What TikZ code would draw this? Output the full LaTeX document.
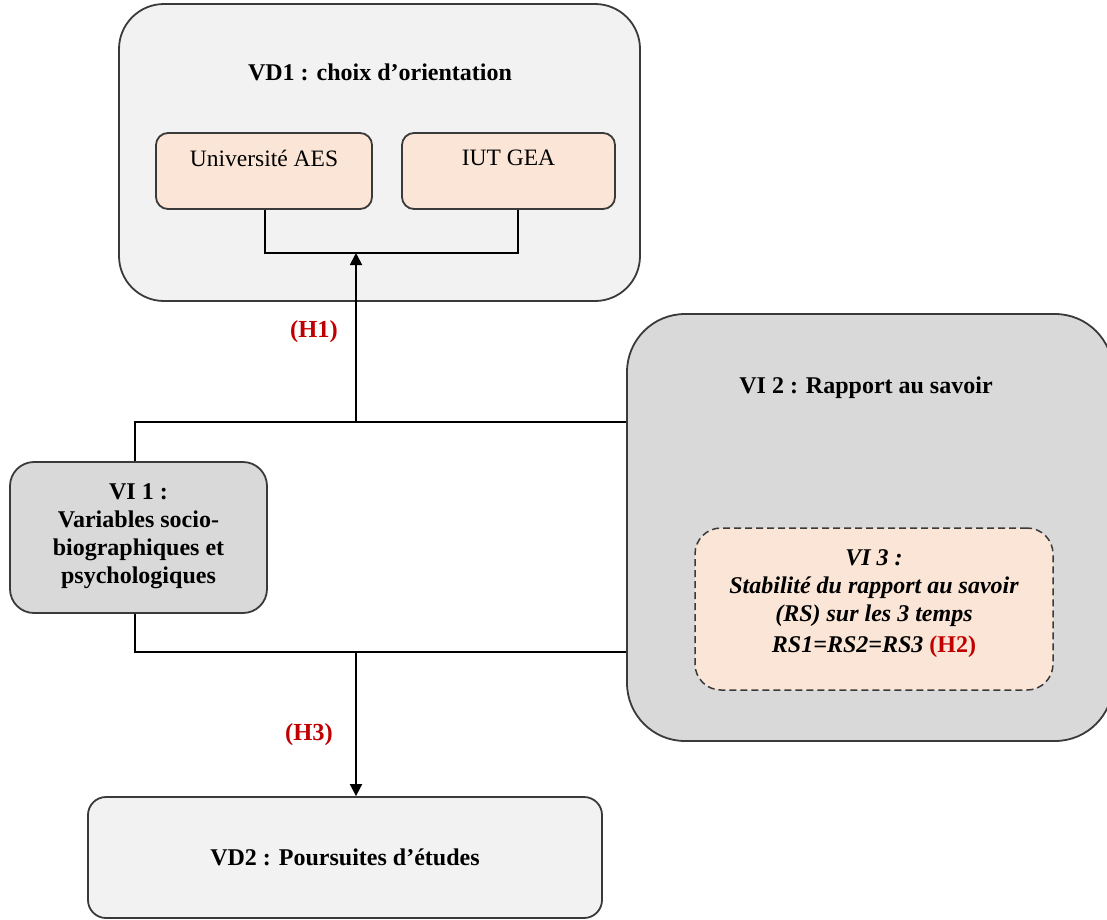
\documentclass[tikz,border=0pt]{standalone}
\usepackage{fontspec}
\setmainfont{Liberation Serif}
\usetikzlibrary{arrows.meta}
\definecolor{lightbox}{HTML}{F2F2F2}
\definecolor{midbox}{HTML}{D9D9D9}
\definecolor{peach}{HTML}{FBE5D6}
\definecolor{hred}{HTML}{C00000}
\definecolor{edge}{HTML}{3A3A3A}
\tikzset{
  box/.style={draw=edge, line width=1.8pt, rectangle, inner sep=0pt},
  txt/.style={font=\fontsize{24}{28}\selectfont\bfseries, align=center, inner sep=0pt},
  plain/.style={txt, font=\fontsize{23.5}{28}\selectfont},
  hyp/.style={font=\fontsize{24.5}{28}\selectfont\bfseries, text=hred, inner sep=0pt},
  conn/.style={line width=1.8pt, black},
  arr/.style={conn, -{Triangle[width=12pt,length=12pt]}}
}
\begin{document}
\begin{tikzpicture}[x=1pt,y=-1pt]
\useasboundingbox (0,0) rectangle (1107,919);
% boxes
\node[box, fill=lightbox, rounded corners=45pt, minimum width=521pt, minimum height=297pt] (VD1) at (379.5,152.5) {};
\node[box, fill=peach, rounded corners=12pt, minimum width=216pt, minimum height=76pt] (AES) at (264,171) {};
\node[box, fill=peach, rounded corners=12pt, minimum width=213pt, minimum height=76pt] (IUT) at (508.5,171) {};
\node[box, fill=midbox, rounded corners=58pt, minimum width=486pt, minimum height=427pt] (VI2) at (870,527.5) {};
\node[box, fill=peach, dash pattern=on 7pt off 4pt, line width=1.5pt, rounded corners=26pt, minimum width=358pt, minimum height=162pt] (VI3) at (874,609) {};
\node[box, fill=midbox, rounded corners=24pt, minimum width=257pt, minimum height=151pt] (VI1) at (138.5,537.5) {};
\node[box, fill=lightbox, rounded corners=18pt, minimum width=514pt, minimum height=121pt] (VD2) at (345,857.5) {};
% texts
\node[txt] (tVD1) at (380,72) {VD1 : choix d’orientation};
\node[plain] (tAES) at (264,158) {Université AES};
\node[plain] (tIUT) at (508.5,158) {IUT GEA};
\node[txt] (tVI2) at (866,388) {VI 2 : Rapport au savoir};
\node[txt, font=\fontsize{24}{28}\selectfont\bfseries\itshape] (tVI3) at (874,604) {VI 3 :\\ Stabilité du rapport au savoir\\ (RS) sur les 3 temps\\[3pt] RS1=RS2=RS3 {\upshape\textcolor{hred}{(H2)}}};
\node[txt] (tVI1) at (138.5,536) {VI 1 :\\ Variables socio-\\ biographiques et\\ psychologiques};
\node[txt] (tVD2) at (345,857) {VD2 : Poursuites d’études};
\node[hyp] (H1) at (314,332) {(H1)};
\node[hyp] (H3) at (309,735) {(H3)};
% connectors
\coordinate (jtop) at (356,422);
\coordinate (jbot) at (356,652);
\coordinate (brk) at (356,253);
\draw[conn] (AES.south -| 265,0) |- (brk) -| (IUT.south -| 518,0);
\draw[arr] (jtop) -- (brk);
\draw[conn] (VI1.north -| 135,0) |- (jtop) -- (VI2.west |- jtop);
\draw[conn] (VI1.south -| 135,0) |- (jbot) -- (VI2.west |- jbot);
\draw[arr] (jbot) -- (VD2.north -| jbot);
\end{tikzpicture}
\end{document}
